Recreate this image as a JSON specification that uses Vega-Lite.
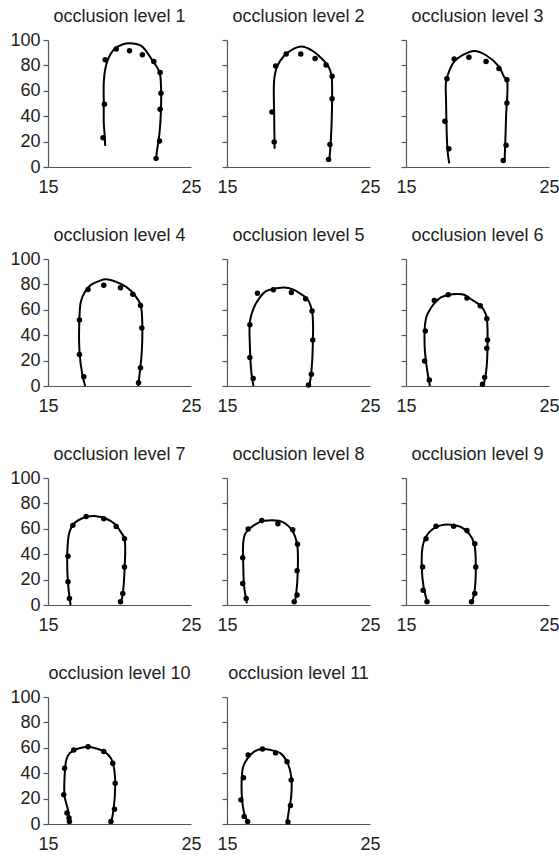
{
"$schema": "https://vega.github.io/schema/vega-lite/v6.json",
"background": "white",
"padding": {"left": 9, "top": 8, "right": 5, "bottom": 5},
"datasets": {
"curve": [
{"p":1,"i":1,"x":19.0,"y":16.6},{"p":1,"i":2,"x":18.95,"y":27},{"p":1,"i":3,"x":18.9,"y":35},{"p":1,"i":4,"x":18.9,"y":50},{"p":1,"i":5,"x":18.9,"y":66.6},{"p":1,"i":6,"x":19.0,"y":77},{"p":1,"i":7,"x":19.2,"y":85},{"p":1,"i":8,"x":19.65,"y":93},{"p":1,"i":9,"x":20.2,"y":96.5},{"p":1,"i":10,"x":20.7,"y":97.5},{"p":1,"i":11,"x":21.5,"y":95.5},{"p":1,"i":12,"x":22.3,"y":84},{"p":1,"i":13,"x":22.8,"y":74.5},{"p":1,"i":14,"x":22.9,"y":64},{"p":1,"i":15,"x":22.9,"y":45.5},{"p":1,"i":16,"x":22.8,"y":27},{"p":1,"i":17,"x":22.6,"y":11},{"p":1,"i":18,"x":22.55,"y":4.7},
{"p":2,"i":1,"x":18.33,"y":14.4},{"p":2,"i":2,"x":18.3,"y":40},{"p":2,"i":3,"x":18.3,"y":68.7},{"p":2,"i":4,"x":18.5,"y":79},{"p":2,"i":5,"x":18.95,"y":87},{"p":2,"i":6,"x":19.5,"y":92},{"p":2,"i":7,"x":20.2,"y":94.8},{"p":2,"i":8,"x":20.9,"y":92},{"p":2,"i":9,"x":21.6,"y":85.6},{"p":2,"i":10,"x":22.1,"y":79},{"p":2,"i":11,"x":22.3,"y":72.6},{"p":2,"i":12,"x":22.35,"y":53},{"p":2,"i":13,"x":22.25,"y":19},{"p":2,"i":14,"x":22.16,"y":6},
{"p":3,"i":1,"x":18.02,"y":2.9},{"p":3,"i":2,"x":17.9,"y":13.8},{"p":3,"i":3,"x":17.8,"y":53},{"p":3,"i":4,"x":17.8,"y":67},{"p":3,"i":5,"x":18.0,"y":75},{"p":3,"i":6,"x":18.37,"y":83},{"p":3,"i":7,"x":18.95,"y":88},{"p":3,"i":8,"x":19.77,"y":91.4},{"p":3,"i":9,"x":20.6,"y":88},{"p":3,"i":10,"x":21.5,"y":79},{"p":3,"i":11,"x":21.86,"y":71},{"p":3,"i":12,"x":22.05,"y":68.7},{"p":3,"i":13,"x":22.0,"y":40},{"p":3,"i":14,"x":21.9,"y":6},
{"p":4,"i":1,"x":17.6,"y":0},{"p":4,"i":2,"x":17.4,"y":9},{"p":4,"i":3,"x":17.2,"y":27.4},{"p":4,"i":4,"x":17.2,"y":53.5},{"p":4,"i":5,"x":17.3,"y":66.6},{"p":4,"i":6,"x":17.6,"y":74.4},{"p":4,"i":7,"x":18.0,"y":79.6},{"p":4,"i":8,"x":18.6,"y":82.8},{"p":4,"i":9,"x":19.07,"y":84},{"p":4,"i":10,"x":19.77,"y":82},{"p":4,"i":11,"x":20.47,"y":78},{"p":4,"i":12,"x":21.05,"y":71.8},{"p":4,"i":13,"x":21.47,"y":64},{"p":4,"i":14,"x":21.58,"y":53.5},{"p":4,"i":15,"x":21.56,"y":27.4},{"p":4,"i":16,"x":21.4,"y":9},{"p":4,"i":17,"x":21.3,"y":0},
{"p":5,"i":1,"x":16.85,"y":0},{"p":5,"i":2,"x":16.7,"y":11.3},{"p":5,"i":3,"x":16.6,"y":32},{"p":5,"i":4,"x":16.6,"y":50.8},{"p":5,"i":5,"x":16.85,"y":61},{"p":5,"i":6,"x":17.25,"y":69},{"p":5,"i":7,"x":17.7,"y":74.5},{"p":5,"i":8,"x":18.5,"y":77},{"p":5,"i":9,"x":19.0,"y":77.6},{"p":5,"i":10,"x":19.56,"y":76.3},{"p":5,"i":11,"x":20.1,"y":73},{"p":5,"i":12,"x":20.6,"y":68.7},{"p":5,"i":13,"x":20.95,"y":58.7},{"p":5,"i":14,"x":21.0,"y":32},{"p":5,"i":15,"x":20.9,"y":11},{"p":5,"i":16,"x":20.76,"y":0},
{"p":6,"i":1,"x":16.67,"y":0},{"p":6,"i":2,"x":16.5,"y":11},{"p":6,"i":3,"x":16.3,"y":32},{"p":6,"i":4,"x":16.4,"y":53.4},{"p":6,"i":5,"x":16.6,"y":58.7},{"p":6,"i":6,"x":16.98,"y":65},{"p":6,"i":7,"x":17.44,"y":69.7},{"p":6,"i":8,"x":18.0,"y":71.8},{"p":6,"i":9,"x":18.6,"y":72.4},{"p":6,"i":10,"x":19.07,"y":71.8},{"p":6,"i":11,"x":19.5,"y":68.7},{"p":6,"i":12,"x":20.2,"y":63.4},{"p":6,"i":13,"x":20.6,"y":56},{"p":6,"i":14,"x":20.7,"y":32},{"p":6,"i":15,"x":20.6,"y":11},{"p":6,"i":16,"x":20.4,"y":0},
{"p":7,"i":1,"x":16.58,"y":0},{"p":7,"i":2,"x":16.47,"y":9},{"p":7,"i":3,"x":16.35,"y":27.4},{"p":7,"i":4,"x":16.4,"y":51},{"p":7,"i":5,"x":16.5,"y":57.4},{"p":7,"i":6,"x":16.8,"y":64},{"p":7,"i":7,"x":17.33,"y":67.9},{"p":7,"i":8,"x":17.8,"y":69.7},{"p":7,"i":9,"x":18.26,"y":70},{"p":7,"i":10,"x":19.07,"y":67.9},{"p":7,"i":11,"x":19.65,"y":64},{"p":7,"i":12,"x":20.1,"y":57.4},{"p":7,"i":13,"x":20.35,"y":52.2},{"p":7,"i":14,"x":20.35,"y":27.4},{"p":7,"i":15,"x":20.23,"y":9},{"p":7,"i":16,"x":20.1,"y":1.3},
{"p":8,"i":1,"x":16.39,"y":1.3},{"p":8,"i":2,"x":16.2,"y":14.4},{"p":8,"i":3,"x":16.13,"y":35},{"p":8,"i":4,"x":16.13,"y":48},{"p":8,"i":5,"x":16.27,"y":56},{"p":8,"i":6,"x":16.67,"y":61},{"p":8,"i":7,"x":17.25,"y":65},{"p":8,"i":8,"x":17.6,"y":66.3},{"p":8,"i":9,"x":18.63,"y":66.3},{"p":8,"i":10,"x":19.1,"y":64},{"p":8,"i":11,"x":19.56,"y":58.7},{"p":8,"i":12,"x":19.9,"y":48},{"p":8,"i":13,"x":19.95,"y":27.4},{"p":8,"i":14,"x":19.84,"y":9},{"p":8,"i":15,"x":19.72,"y":1.3},
{"p":9,"i":1,"x":16.5,"y":1.8},{"p":9,"i":2,"x":16.23,"y":14.4},{"p":9,"i":3,"x":16.1,"y":30},{"p":9,"i":4,"x":16.16,"y":45.7},{"p":9,"i":5,"x":16.33,"y":52.2},{"p":9,"i":6,"x":16.63,"y":57.4},{"p":9,"i":7,"x":17.1,"y":61.4},{"p":9,"i":8,"x":17.67,"y":63.2},{"p":9,"i":9,"x":18.14,"y":63.2},{"p":9,"i":10,"x":18.84,"y":61.4},{"p":9,"i":11,"x":19.42,"y":56},{"p":9,"i":12,"x":19.77,"y":48.3},{"p":9,"i":13,"x":19.88,"y":30},{"p":9,"i":14,"x":19.77,"y":9},{"p":9,"i":15,"x":19.58,"y":1.8},
{"p":10,"i":1,"x":16.5,"y":0.8},{"p":10,"i":2,"x":16.4,"y":11},{"p":10,"i":3,"x":16.16,"y":21.7},{"p":10,"i":4,"x":16.16,"y":37.3},{"p":10,"i":5,"x":16.28,"y":50.4},{"p":10,"i":6,"x":16.5,"y":55.6},{"p":10,"i":7,"x":16.86,"y":58.2},{"p":10,"i":8,"x":17.33,"y":60},{"p":10,"i":9,"x":17.8,"y":60.8},{"p":10,"i":10,"x":18.37,"y":59.5},{"p":10,"i":11,"x":18.95,"y":57},{"p":10,"i":12,"x":19.4,"y":51.7},{"p":10,"i":13,"x":19.6,"y":45},{"p":10,"i":14,"x":19.7,"y":32},{"p":10,"i":15,"x":19.58,"y":11},{"p":10,"i":16,"x":19.4,"y":0.8},
{"p":11,"i":1,"x":16.48,"y":0.8},{"p":11,"i":2,"x":16.2,"y":8.6},{"p":11,"i":3,"x":16.04,"y":21.7},{"p":11,"i":4,"x":16.04,"y":37.3},{"p":11,"i":5,"x":16.13,"y":45},{"p":11,"i":6,"x":16.44,"y":51.7},{"p":11,"i":7,"x":16.9,"y":57},{"p":11,"i":8,"x":17.48,"y":59},{"p":11,"i":9,"x":18.06,"y":58.2},{"p":11,"i":10,"x":18.75,"y":55.6},{"p":11,"i":11,"x":19.2,"y":49},{"p":11,"i":12,"x":19.49,"y":37.3},{"p":11,"i":13,"x":19.49,"y":21.7},{"p":11,"i":14,"x":19.33,"y":11},{"p":11,"i":15,"x":19.2,"y":0.8}
],
"pts": [
{"p":1,"x":19.0,"y":84.5},{"p":1,"x":18.95,"y":49.5},{"p":1,"x":18.85,"y":23},{"p":1,"x":19.77,"y":93},{"p":1,"x":20.7,"y":91.6},{"p":1,"x":21.6,"y":88.4},{"p":1,"x":22.4,"y":83},{"p":1,"x":22.84,"y":74.5},{"p":1,"x":22.9,"y":58},{"p":1,"x":22.84,"y":45.5},{"p":1,"x":22.8,"y":20.5},{"p":1,"x":22.56,"y":6.8},
{"p":2,"x":18.4,"y":79.6},{"p":2,"x":18.14,"y":43.3},{"p":2,"x":18.3,"y":19.6},{"p":2,"x":19.14,"y":89},{"p":2,"x":20.16,"y":89},{"p":2,"x":21.16,"y":85.4},{"p":2,"x":21.93,"y":80.4},{"p":2,"x":22.35,"y":71.5},{"p":2,"x":22.35,"y":53.8},{"p":2,"x":22.2,"y":17.8},{"p":2,"x":22.1,"y":6},
{"p":3,"x":17.86,"y":69.5},{"p":3,"x":17.72,"y":36},{"p":3,"x":18.0,"y":14.4},{"p":3,"x":18.37,"y":85},{"p":3,"x":19.4,"y":86.4},{"p":3,"x":20.6,"y":83},{"p":3,"x":21.5,"y":77.5},{"p":3,"x":22.06,"y":68.7},{"p":3,"x":22.06,"y":50.4},{"p":3,"x":22.0,"y":17.2},{"p":3,"x":21.8,"y":5.2},
{"p":4,"x":17.2,"y":52},{"p":4,"x":17.2,"y":24.8},{"p":4,"x":17.5,"y":7.3},{"p":4,"x":17.8,"y":76},{"p":4,"x":18.9,"y":79.4},{"p":4,"x":20.07,"y":77.3},{"p":4,"x":20.93,"y":72.3},{"p":4,"x":21.47,"y":63.4},{"p":4,"x":21.56,"y":45.7},{"p":4,"x":21.47,"y":14.4},{"p":4,"x":21.33,"y":2.6},
{"p":5,"x":17.13,"y":73},{"p":5,"x":18.24,"y":75.8},{"p":5,"x":19.5,"y":73.7},{"p":5,"x":20.5,"y":68.7},{"p":5,"x":20.95,"y":59},{"p":5,"x":21.0,"y":36.3},{"p":5,"x":20.9,"y":9.2},{"p":5,"x":20.7,"y":0.8},{"p":5,"x":16.6,"y":48.2},{"p":5,"x":16.6,"y":22.4},{"p":5,"x":16.83,"y":6},
{"p":6,"x":16.35,"y":43.4},{"p":6,"x":16.3,"y":19.7},{"p":6,"x":16.63,"y":4.7},{"p":6,"x":16.98,"y":67.4},{"p":6,"x":17.95,"y":71.8},{"p":6,"x":19.26,"y":69.2},{"p":6,"x":20.19,"y":63.2},{"p":6,"x":20.65,"y":52.9},{"p":6,"x":20.7,"y":36.3},{"p":6,"x":20.65,"y":29.7},{"p":6,"x":20.5,"y":6.8},{"p":6,"x":20.35,"y":1.3},
{"p":7,"x":16.4,"y":38.4},{"p":7,"x":16.4,"y":18.3},{"p":7,"x":16.5,"y":5.2},{"p":7,"x":16.74,"y":62.7},{"p":7,"x":17.67,"y":69.7},{"p":7,"x":18.9,"y":67.9},{"p":7,"x":19.77,"y":61.9},{"p":7,"x":20.35,"y":52.2},{"p":7,"x":20.35,"y":30},{"p":7,"x":20.23,"y":9.1},{"p":7,"x":20.07,"y":2.6},
{"p":8,"x":16.1,"y":37.3},{"p":8,"x":16.1,"y":17},{"p":8,"x":16.34,"y":5.2},{"p":8,"x":16.48,"y":59.8},{"p":8,"x":17.43,"y":66.6},{"p":8,"x":18.56,"y":64},{"p":8,"x":19.6,"y":59.3},{"p":8,"x":19.93,"y":47.8},{"p":8,"x":19.9,"y":26.9},{"p":8,"x":19.9,"y":7.8},{"p":8,"x":19.7,"y":2.6},
{"p":9,"x":16.16,"y":30},{"p":9,"x":16.2,"y":11.7},{"p":9,"x":16.47,"y":2.6},{"p":9,"x":16.4,"y":52.2},{"p":9,"x":17.1,"y":62},{"p":9,"x":18.33,"y":62},{"p":9,"x":19.26,"y":58.7},{"p":9,"x":19.81,"y":48.3},{"p":9,"x":19.88,"y":30},{"p":9,"x":19.81,"y":9.1},{"p":9,"x":19.58,"y":2.6},
{"p":10,"x":16.16,"y":43.9},{"p":10,"x":16.1,"y":23},{"p":10,"x":16.33,"y":8.6},{"p":10,"x":16.47,"y":4.7},{"p":10,"x":16.5,"y":2},{"p":10,"x":16.8,"y":58.2},{"p":10,"x":17.8,"y":60.8},{"p":10,"x":18.9,"y":57},{"p":10,"x":19.53,"y":47.8},{"p":10,"x":19.7,"y":32},{"p":10,"x":19.65,"y":11.7},{"p":10,"x":19.4,"y":2},
{"p":11,"x":16.15,"y":36.5},{"p":11,"x":15.97,"y":19},{"p":11,"x":16.2,"y":6},{"p":11,"x":16.44,"y":2},{"p":11,"x":16.48,"y":54.3},{"p":11,"x":17.48,"y":59},{"p":11,"x":18.4,"y":56},{"p":11,"x":19.2,"y":49},{"p":11,"x":19.49,"y":34.7},{"p":11,"x":19.44,"y":14.6},{"p":11,"x":19.26,"y":1.6}
]
},
"columns": 3,
"spacing": {"row": 92, "column": 36},
"bounds": "flush",
"concat": [
{"title": "occlusion level 1", "width": 143, "height": 127, "encoding": {"x": {"field": "x", "type": "quantitative", "title": null, "scale": {"domain": [15, 25], "nice": false, "zero": false}, "axis": {"values": [15, 25]}}, "y": {"field": "y", "type": "quantitative", "title": null, "scale": {"domain": [0, 100]}, "axis": {"values": [0, 20, 40, 60, 80, 100]}}},
 "layer": [
  {"data": {"name": "curve"}, "transform": [{"filter": "datum.p == 1"}], "mark": {"type": "line", "interpolate": "catmull-rom", "color": "black", "strokeWidth": 2}, "encoding": {"order": {"field": "i", "type": "quantitative"}}},
  {"data": {"name": "pts"}, "transform": [{"filter": "datum.p == 1"}], "mark": {"type": "circle", "color": "black", "size": 30, "opacity": 1}, "encoding": {}}
 ]},
{"title": "occlusion level 2", "width": 143, "height": 127, "encoding": {"x": {"field": "x", "type": "quantitative", "title": null, "scale": {"domain": [15, 25], "nice": false, "zero": false}, "axis": {"values": [15, 25]}}, "y": {"field": "y", "type": "quantitative", "title": null, "scale": {"domain": [0, 100]}, "axis": {"values": [0, 20, 40, 60, 80, 100], "labelOpacity": 0}}},
 "layer": [
  {"data": {"name": "curve"}, "transform": [{"filter": "datum.p == 2"}], "mark": {"type": "line", "interpolate": "catmull-rom", "color": "black", "strokeWidth": 2}, "encoding": {"order": {"field": "i", "type": "quantitative"}}},
  {"data": {"name": "pts"}, "transform": [{"filter": "datum.p == 2"}], "mark": {"type": "circle", "color": "black", "size": 30, "opacity": 1}, "encoding": {}}
 ]},
{"title": "occlusion level 3", "width": 143, "height": 127, "encoding": {"x": {"field": "x", "type": "quantitative", "title": null, "scale": {"domain": [15, 25], "nice": false, "zero": false}, "axis": {"values": [15, 25]}}, "y": {"field": "y", "type": "quantitative", "title": null, "scale": {"domain": [0, 100]}, "axis": {"values": [0, 20, 40, 60, 80, 100], "labelOpacity": 0}}},
 "layer": [
  {"data": {"name": "curve"}, "transform": [{"filter": "datum.p == 3"}], "mark": {"type": "line", "interpolate": "catmull-rom", "color": "black", "strokeWidth": 2}, "encoding": {"order": {"field": "i", "type": "quantitative"}}},
  {"data": {"name": "pts"}, "transform": [{"filter": "datum.p == 3"}], "mark": {"type": "circle", "color": "black", "size": 30, "opacity": 1}, "encoding": {}}
 ]},
{"title": "occlusion level 4", "width": 143, "height": 127, "encoding": {"x": {"field": "x", "type": "quantitative", "title": null, "scale": {"domain": [15, 25], "nice": false, "zero": false}, "axis": {"values": [15, 25]}}, "y": {"field": "y", "type": "quantitative", "title": null, "scale": {"domain": [0, 100]}, "axis": {"values": [0, 20, 40, 60, 80, 100]}}},
 "layer": [
  {"data": {"name": "curve"}, "transform": [{"filter": "datum.p == 4"}], "mark": {"type": "line", "interpolate": "catmull-rom", "color": "black", "strokeWidth": 2}, "encoding": {"order": {"field": "i", "type": "quantitative"}}},
  {"data": {"name": "pts"}, "transform": [{"filter": "datum.p == 4"}], "mark": {"type": "circle", "color": "black", "size": 30, "opacity": 1}, "encoding": {}}
 ]},
{"title": "occlusion level 5", "width": 143, "height": 127, "encoding": {"x": {"field": "x", "type": "quantitative", "title": null, "scale": {"domain": [15, 25], "nice": false, "zero": false}, "axis": {"values": [15, 25]}}, "y": {"field": "y", "type": "quantitative", "title": null, "scale": {"domain": [0, 100]}, "axis": {"values": [0, 20, 40, 60, 80, 100], "labelOpacity": 0}}},
 "layer": [
  {"data": {"name": "curve"}, "transform": [{"filter": "datum.p == 5"}], "mark": {"type": "line", "interpolate": "catmull-rom", "color": "black", "strokeWidth": 2}, "encoding": {"order": {"field": "i", "type": "quantitative"}}},
  {"data": {"name": "pts"}, "transform": [{"filter": "datum.p == 5"}], "mark": {"type": "circle", "color": "black", "size": 30, "opacity": 1}, "encoding": {}}
 ]},
{"title": "occlusion level 6", "width": 143, "height": 127, "encoding": {"x": {"field": "x", "type": "quantitative", "title": null, "scale": {"domain": [15, 25], "nice": false, "zero": false}, "axis": {"values": [15, 25]}}, "y": {"field": "y", "type": "quantitative", "title": null, "scale": {"domain": [0, 100]}, "axis": {"values": [0, 20, 40, 60, 80, 100], "labelOpacity": 0}}},
 "layer": [
  {"data": {"name": "curve"}, "transform": [{"filter": "datum.p == 6"}], "mark": {"type": "line", "interpolate": "catmull-rom", "color": "black", "strokeWidth": 2}, "encoding": {"order": {"field": "i", "type": "quantitative"}}},
  {"data": {"name": "pts"}, "transform": [{"filter": "datum.p == 6"}], "mark": {"type": "circle", "color": "black", "size": 30, "opacity": 1}, "encoding": {}}
 ]},
{"title": "occlusion level 7", "width": 143, "height": 127, "encoding": {"x": {"field": "x", "type": "quantitative", "title": null, "scale": {"domain": [15, 25], "nice": false, "zero": false}, "axis": {"values": [15, 25]}}, "y": {"field": "y", "type": "quantitative", "title": null, "scale": {"domain": [0, 100]}, "axis": {"values": [0, 20, 40, 60, 80, 100]}}},
 "layer": [
  {"data": {"name": "curve"}, "transform": [{"filter": "datum.p == 7"}], "mark": {"type": "line", "interpolate": "catmull-rom", "color": "black", "strokeWidth": 2}, "encoding": {"order": {"field": "i", "type": "quantitative"}}},
  {"data": {"name": "pts"}, "transform": [{"filter": "datum.p == 7"}], "mark": {"type": "circle", "color": "black", "size": 30, "opacity": 1}, "encoding": {}}
 ]},
{"title": "occlusion level 8", "width": 143, "height": 127, "encoding": {"x": {"field": "x", "type": "quantitative", "title": null, "scale": {"domain": [15, 25], "nice": false, "zero": false}, "axis": {"values": [15, 25]}}, "y": {"field": "y", "type": "quantitative", "title": null, "scale": {"domain": [0, 100]}, "axis": {"values": [0, 20, 40, 60, 80, 100], "labelOpacity": 0}}},
 "layer": [
  {"data": {"name": "curve"}, "transform": [{"filter": "datum.p == 8"}], "mark": {"type": "line", "interpolate": "catmull-rom", "color": "black", "strokeWidth": 2}, "encoding": {"order": {"field": "i", "type": "quantitative"}}},
  {"data": {"name": "pts"}, "transform": [{"filter": "datum.p == 8"}], "mark": {"type": "circle", "color": "black", "size": 30, "opacity": 1}, "encoding": {}}
 ]},
{"title": "occlusion level 9", "width": 143, "height": 127, "encoding": {"x": {"field": "x", "type": "quantitative", "title": null, "scale": {"domain": [15, 25], "nice": false, "zero": false}, "axis": {"values": [15, 25]}}, "y": {"field": "y", "type": "quantitative", "title": null, "scale": {"domain": [0, 100]}, "axis": {"values": [0, 20, 40, 60, 80, 100], "labelOpacity": 0}}},
 "layer": [
  {"data": {"name": "curve"}, "transform": [{"filter": "datum.p == 9"}], "mark": {"type": "line", "interpolate": "catmull-rom", "color": "black", "strokeWidth": 2}, "encoding": {"order": {"field": "i", "type": "quantitative"}}},
  {"data": {"name": "pts"}, "transform": [{"filter": "datum.p == 9"}], "mark": {"type": "circle", "color": "black", "size": 30, "opacity": 1}, "encoding": {}}
 ]},
{"title": "occlusion level 10", "width": 143, "height": 127, "encoding": {"x": {"field": "x", "type": "quantitative", "title": null, "scale": {"domain": [15, 25], "nice": false, "zero": false}, "axis": {"values": [15, 25]}}, "y": {"field": "y", "type": "quantitative", "title": null, "scale": {"domain": [0, 100]}, "axis": {"values": [0, 20, 40, 60, 80, 100]}}},
 "layer": [
  {"data": {"name": "curve"}, "transform": [{"filter": "datum.p == 10"}], "mark": {"type": "line", "interpolate": "catmull-rom", "color": "black", "strokeWidth": 2}, "encoding": {"order": {"field": "i", "type": "quantitative"}}},
  {"data": {"name": "pts"}, "transform": [{"filter": "datum.p == 10"}], "mark": {"type": "circle", "color": "black", "size": 30, "opacity": 1}, "encoding": {}}
 ]},
{"title": "occlusion level 11", "width": 143, "height": 127, "encoding": {"x": {"field": "x", "type": "quantitative", "title": null, "scale": {"domain": [15, 25], "nice": false, "zero": false}, "axis": {"values": [15, 25]}}, "y": {"field": "y", "type": "quantitative", "title": null, "scale": {"domain": [0, 100]}, "axis": {"values": [0, 20, 40, 60, 80, 100], "labelOpacity": 0}}},
 "layer": [
  {"data": {"name": "curve"}, "transform": [{"filter": "datum.p == 11"}], "mark": {"type": "line", "interpolate": "catmull-rom", "color": "black", "strokeWidth": 2}, "encoding": {"order": {"field": "i", "type": "quantitative"}}},
  {"data": {"name": "pts"}, "transform": [{"filter": "datum.p == 11"}], "mark": {"type": "circle", "color": "black", "size": 30, "opacity": 1}, "encoding": {}}
 ]}
],
"config": {
 "view": {"stroke": null},
 "font": "Liberation Sans",
 "axis": {"grid": false, "domainColor": "#555", "tickColor": "#555", "labelColor": "#222", "labelFont": "Liberation Sans", "labelFontSize": 18, "domainWidth": 1.2, "tickWidth": 1.2},
 "axisX": {"ticks": false, "labelFlush": false, "labelPadding": 11},
 "axisY": {"tickSize": 5, "labelPadding": 3},
 "title": {"font": "Liberation Sans", "fontSize": 18, "fontWeight": "normal", "color": "#222", "offset": 5, "frame": "group", "anchor": "middle"}
}
}
